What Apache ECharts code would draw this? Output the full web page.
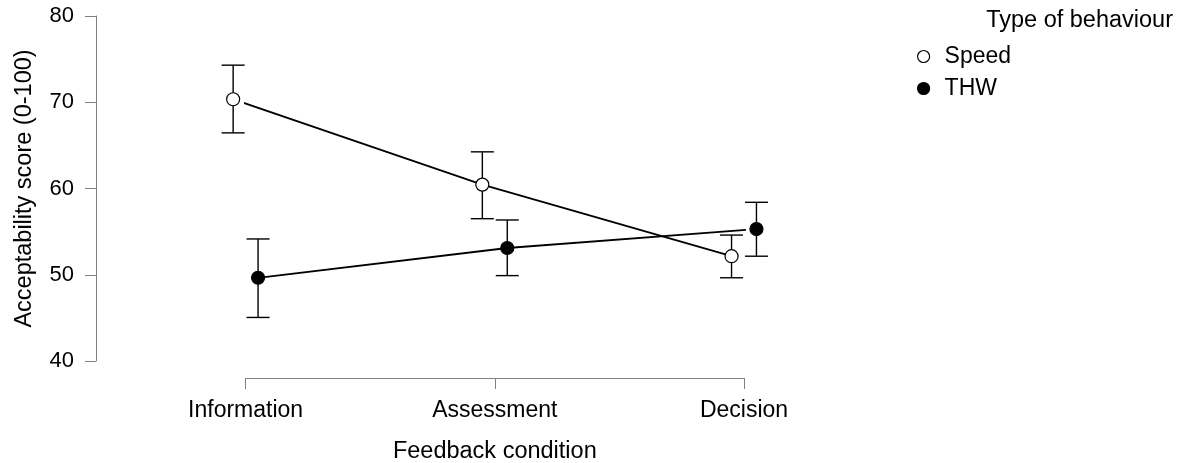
<!DOCTYPE html>
<html>
<head>
<meta charset="utf-8">
<script src="https://cdn.jsdelivr.net/npm/echarts@6/dist/echarts.min.js"></script>
<style>
html,body{margin:0;padding:0;background:#fff;}
#chart{width:1181px;height:463px;}
</style>
</head>
<body>
<div id="chart"></div>
<script>
var categories = ['Information', 'Assessment', 'Decision'];
var seriesNames = ['Speed', 'THW'];
var speedMean = [70.35, 60.45, 52.15];
var speedLower = [66.45, 56.5, 49.65];
var speedUpper = [74.3, 64.25, 54.6];
var thwMean = [49.65, 53.1, 55.3];
var thwLower = [45.05, 49.9, 52.15];
var thwUpper = [54.15, 56.35, 58.4];
var yTicks = [40, 50, 60, 70, 80];

var DODGE = 0.05;
var FONT = 'Liberation Sans, Arial, Helvetica, sans-serif';

function pts(means, off) {
  return means.map(function (v, i) { return [i + off, v]; });
}
function bars(lo, hi, off) {
  return lo.map(function (v, i) { return [i + off, v, hi[i]]; });
}
function renderErr(params, api) {
  var x = api.value(0);
  var p1 = api.coord([x, api.value(1)]);
  var p2 = api.coord([x, api.value(2)]);
  var hw = 11.5;
  var st = { stroke: '#000', lineWidth: 1.4 };
  return {
    type: 'group',
    children: [
      { type: 'line', shape: { x1: p1[0], y1: p1[1], x2: p2[0], y2: p2[1] }, style: st },
      { type: 'line', shape: { x1: p1[0] - hw, y1: p1[1], x2: p1[0] + hw, y2: p1[1] }, style: st },
      { type: 'line', shape: { x1: p2[0] - hw, y1: p2[1], x2: p2[0] + hw, y2: p2[1] }, style: st }
    ]
  };
}

var chart = echarts.init(document.getElementById('chart'));
var axisGrey = '#808080';
chart.setOption({
  animation: false,
  backgroundColor: '#fff',
  textStyle: { fontFamily: FONT },
  title: {
    text: 'Type of behaviour',
    right: 3, top: 4,
    textStyle: { fontFamily: FONT, fontSize: 23.5, fontWeight: 'normal', color: '#000' }
  },
  legend: {
    orient: 'vertical',
    left: 912, top: 40,
    itemWidth: 12, itemHeight: 12, itemGap: 9,
    textStyle: { fontFamily: FONT, fontSize: 23, color: '#000', padding: [0, 0, 0, 10] },
    data: [
      { name: seriesNames[0], icon: 'circle', itemStyle: { color: '#fff', borderColor: '#000', borderWidth: 1.2 } },
      { name: seriesNames[1], icon: 'circle', itemStyle: { color: '#000', borderColor: '#000', borderWidth: 1.2 } }
    ]
  },
  grid: [
    { left: 96, top: 16, width: 10, bottom: 102, containLabel: false, outerBoundsMode: 'none' },
    { left: 245.6, right: 437, top: 16, bottom: 102, containLabel: false, outerBoundsMode: 'none' }
  ],
  xAxis: [
    { gridIndex: 0, type: 'value', show: false, min: 0, max: 1 },
    {
      gridIndex: 1, type: 'value', min: 0, max: 2, interval: 1,
      offset: 17,
      axisLine: { show: true, lineStyle: { color: axisGrey, width: 1 } },
      axisTick: { show: true, length: 11, inside: false, lineStyle: { color: axisGrey, width: 1 } },
      splitLine: { show: false },
      axisLabel: {
        margin: 21, fontSize: 23, color: '#000', fontFamily: FONT,
        formatter: function (v) { return categories[Math.round(v)] || ''; }
      },
      name: 'Feedback condition', nameLocation: 'middle', nameGap: 62,
      nameTextStyle: { fontSize: 23.5, color: '#000', fontFamily: FONT }
    }
  ],
  yAxis: [
    {
      gridIndex: 0, type: 'value', min: 40, max: 80, interval: 10,
      axisLine: { show: true, lineStyle: { color: axisGrey, width: 1 } },
      axisTick: { show: true, length: 11, lineStyle: { color: axisGrey, width: 1 } },
      splitLine: { show: false },
      axisLabel: {
        margin: 22, fontSize: 22, color: '#000', fontFamily: FONT,
        formatter: function (v) { return yTicks.indexOf(v) >= 0 ? String(v) : ''; }
      },
      name: 'Acceptability score (0-100)', nameLocation: 'middle', nameGap: 59,
      nameTextStyle: { fontSize: 23.5, color: '#000', fontFamily: FONT }
    },
    { gridIndex: 1, type: 'value', min: 40, max: 80, show: false }
  ],
  series: [
    {
      type: 'custom', xAxisIndex: 1, yAxisIndex: 1, silent: true, z: 2, clip: false,
      renderItem: renderErr, data: bars(speedLower, speedUpper, -DODGE)
    },
    {
      type: 'custom', xAxisIndex: 1, yAxisIndex: 1, silent: true, z: 2, clip: false,
      renderItem: renderErr, data: bars(thwLower, thwUpper, DODGE)
    },
    {
      name: seriesNames[0], type: 'line', xAxisIndex: 1, yAxisIndex: 1, z: 5, clip: false,
      data: pts(speedMean, -DODGE), symbol: 'circle', symbolSize: 13, showSymbol: true,
      lineStyle: { color: '#000', width: 1.8 },
      itemStyle: { color: '#fff', borderColor: '#000', borderWidth: 1.2 }
    },
    {
      name: seriesNames[1], type: 'line', xAxisIndex: 1, yAxisIndex: 1, z: 5, clip: false,
      data: pts(thwMean, DODGE), symbol: 'circle', symbolSize: 13, showSymbol: true,
      lineStyle: { color: '#000', width: 1.8 },
      itemStyle: { color: '#000', borderColor: '#000', borderWidth: 1.2 }
    }
  ]
});
</script>
</body>
</html>
